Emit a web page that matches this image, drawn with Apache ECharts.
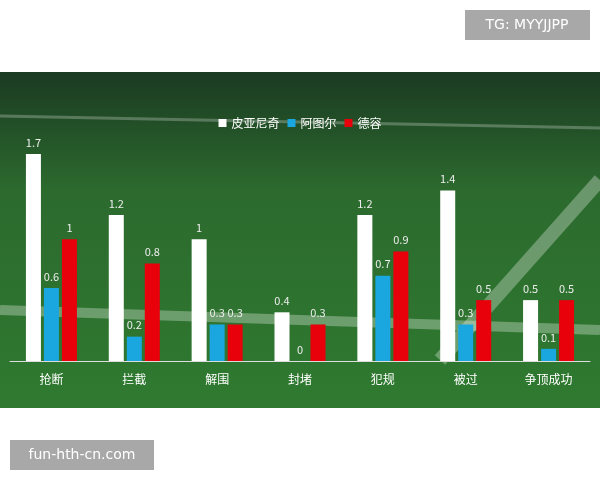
<!DOCTYPE html>
<html>
<head>
<meta charset="utf-8">
<script src="https://cdn.jsdelivr.net/npm/echarts@6/dist/echarts.min.js"></script>
<style>html,body{margin:0;padding:0;background:#fff}#main{width:600px;height:480px}</style>
</head>
<body>
<div id="main"></div>
<script>
// chart data
var categories = ['抢断', '拦截', '解围', '封堵', '犯规', '被过', '争顶成功'];
var pique = [1.7, 1.2, 1, 0.4, 1.2, 1.4, 0.5];
var alba = [0.6, 0.2, 0.3, 0, 0.7, 0.3, 0.1];
var dejong = [1, 0.8, 0.3, 0.3, 0.9, 0.5, 0.5];

var chart = echarts.init(document.getElementById('main'));

function bar(name, data, color) {
  return {
    name: name,
    type: 'bar',
    data: data,
    barWidth: 15,
    barGap: '20%',
    itemStyle: { color: color },
    label: { show: true, position: 'top', color: '#eee', fontSize: 11, distance: 6 }
  };
}

var option = {
  textStyle: { fontFamily: 'Noto Sans CJK SC' },
  graphic: [
    {
      type: 'rect', z: -10, shape: { x: 0, y: 72, width: 600, height: 336 },
      style: {
        fill: new echarts.graphic.LinearGradient(0, 0, 0, 1, [
          { offset: 0, color: '#1b3a22' },
          { offset: 0.35, color: '#2c6a2e' },
          { offset: 1, color: '#2f7a30' }
        ])
      }
    },
    { type: 'line', z: -9, shape: { x1: 0, y1: 116, x2: 600, y2: 128 }, style: { stroke: 'rgba(255,255,255,0.25)', lineWidth: 3 } },
    { type: 'line', z: -9, shape: { x1: 0, y1: 310, x2: 600, y2: 330 }, style: { stroke: 'rgba(255,255,255,0.3)', lineWidth: 10 } },
    { type: 'line', z: -9, shape: { x1: 440, y1: 360, x2: 600, y2: 180 }, style: { stroke: 'rgba(255,255,255,0.3)', lineWidth: 14 } },
    { type: 'rect', shape: { x: 465, y: 10, width: 125, height: 30 }, style: { fill: '#a8a8a8' } },
    { type: 'text', x: 527, y: 25, style: { text: 'TG: MYYJJPP', fill: '#fff', fontSize: 14, align: 'center', verticalAlign: 'middle', fontFamily: 'DejaVu Sans' } },
    { type: 'rect', shape: { x: 10, y: 440, width: 144, height: 30 }, style: { fill: '#a8a8a8' } },
    { type: 'text', x: 82, y: 455, style: { text: 'fun-hth-cn.com', fill: '#fff', fontSize: 14, align: 'center', verticalAlign: 'middle', fontFamily: 'DejaVu Sans' } }
  ],
  legend: {
    top: 112, left: 'center', itemWidth: 8, itemHeight: 8, itemGap: 8,
    textStyle: { color: '#fff', fontSize: 12 },
    data: [
      { name: '皮亚尼奇', icon: 'rect' },
      { name: '阿图尔', icon: 'rect' },
      { name: '德容', icon: 'rect' }
    ]
  },
  grid: { left: 10, right: 10, top: 117.5, bottom: 119 },
  xAxis: {
    type: 'category', data: categories,
    axisLine: { lineStyle: { color: '#ddd' } },
    axisTick: { show: false },
    axisLabel: { color: '#fff', fontSize: 12, margin: 12 }
  },
  yAxis: { type: 'value', min: 0, max: 2, show: false, splitLine: { show: false } },
  series: [
    bar('皮亚尼奇', pique, '#ffffff'),
    bar('阿图尔', alba, '#1aa7e0'),
    bar('德容', dejong, '#e8000b')
  ]
};
chart.setOption(option);
</script>
</body>
</html>
